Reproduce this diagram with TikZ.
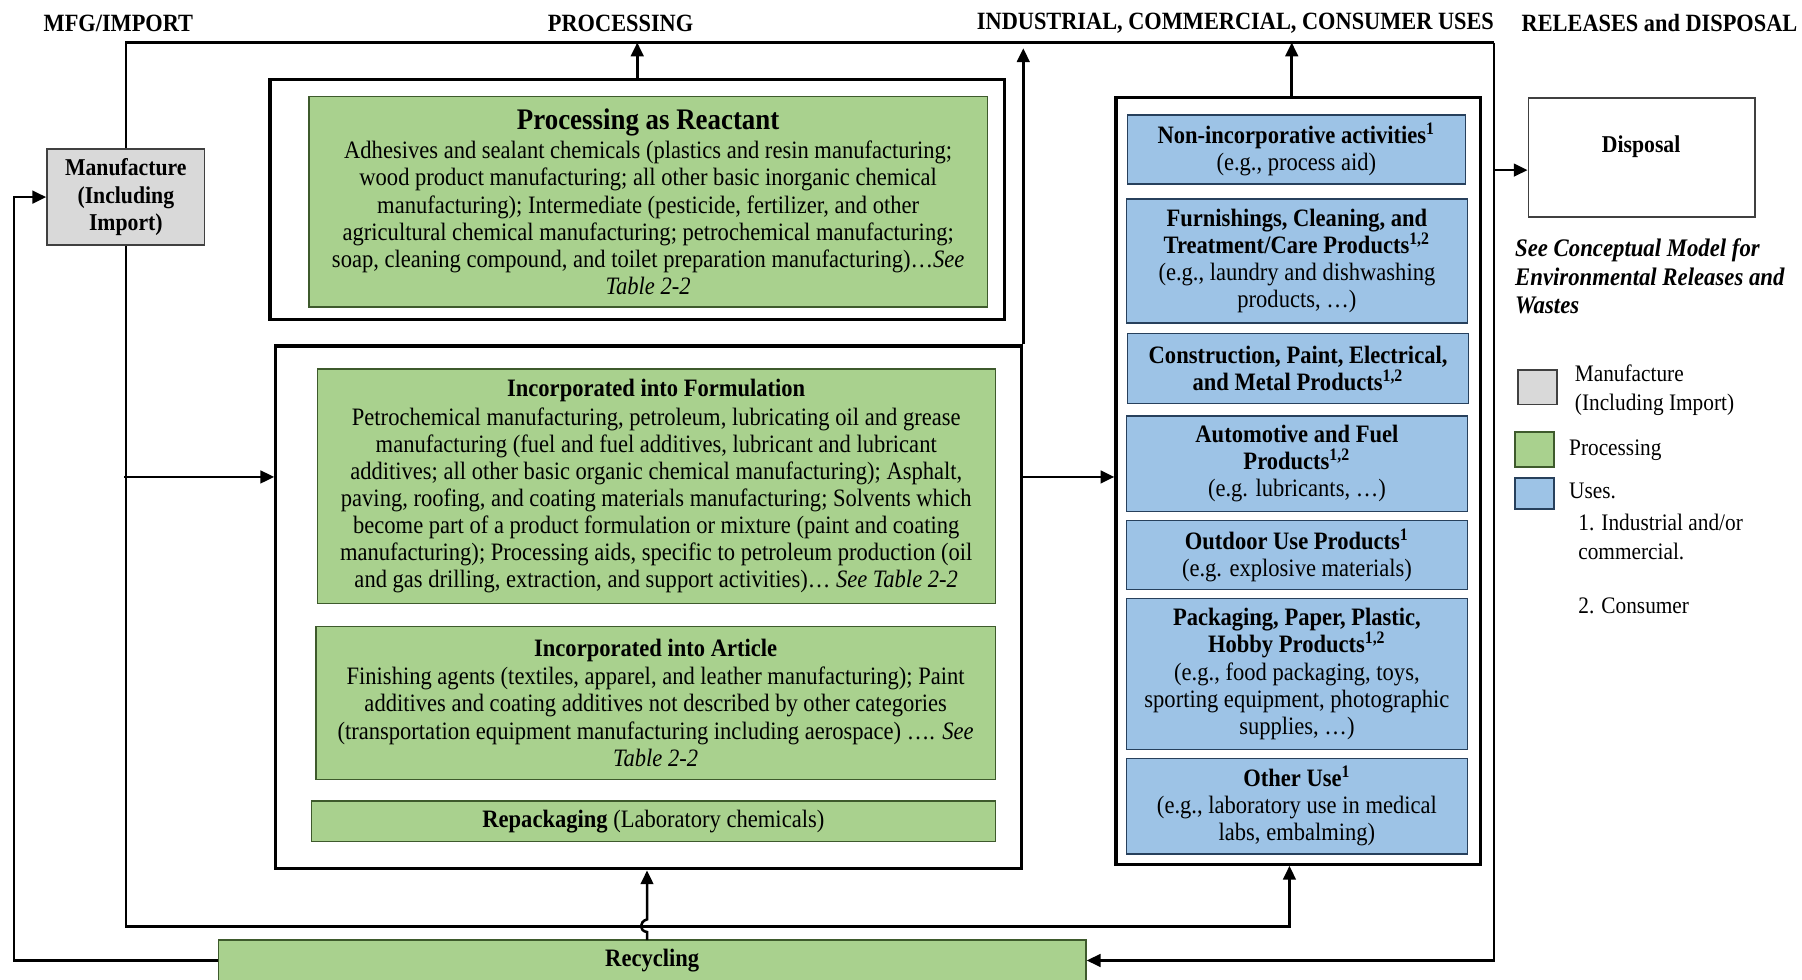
\documentclass[tikz,border=0pt]{standalone}
\usepackage{fontspec}
\setmainfont{Liberation Serif}[FakeStretch=0.9]
\usetikzlibrary{arrows.meta}
\definecolor{grn}{HTML}{A9D18E}
\definecolor{blu}{HTML}{9DC3E6}
\definecolor{gry}{HTML}{D9D9D9}
\definecolor{grnline}{HTML}{3E5A2C}
\definecolor{bluline}{HTML}{27405C}
\newcommand\myBody{\fontsize{10.9}{11.8}\selectfont}
\newcommand\myHdr{\fontsize{10.8}{12}\selectfont\bfseries}
\newcommand{\mybox}[7]{%
  \pgfmathsetmacro\mbw{(#4-#2)*0.5}%
  \pgfmathsetmacro\mbh{(#5-#3)*0.5}%
  \node[#6, minimum width=\mbw pt, minimum height=\mbh pt] (#1) at ({(#2+#4)/2},{(#3+#5)/2}) {#7};}
\tikzset{
  conn/.style={line width=1.1pt},
  arr/.style={-{Triangle[length=6pt,width=5.5pt]}},
  cont/.style={draw, line width=1.4pt, fill=white, inner sep=0pt},
  gbox/.style={draw=grnline, fill=grn, line width=0.6pt, align=center, inner sep=0pt, font=\myBody},
  bbox/.style={draw=bluline, fill=blu, line width=0.6pt, align=center, inner sep=0pt, font=\myBody},
  hdr/.style={font=\myHdr, inner sep=0pt},
  leg/.style={font=\fontsize{10.3}{12.5}\selectfont, align=left, anchor=west, inner sep=0pt},
}
\begin{document}
\begin{tikzpicture}[x=0.5pt,y=-0.5pt]
\useasboundingbox (0,0) rectangle (1568,852);
% headers
\node[hdr] (h1) at (103,20) {MFG/IMPORT};
\node[hdr] (h2) at (540,20) {PROCESSING};
\node[hdr] (h3) at (1075,20) {INDUSTRIAL, COMMERCIAL, CONSUMER USES};
\node[hdr] (h4) at (1444,20) {RELEASES and DISPOSAL};

% main boxes
\mybox{mfg}{41}{130}{178}{213}{draw=black!75, fill=gry, line width=0.8pt, align=center, inner sep=0pt, font=\fontsize{10.5}{12}\selectfont\bfseries}{Manufacture\\(Including\\Import)}
\mybox{proc1}{235}{69}{874}{278}{cont}{}
\mybox{proc2}{240}{301}{889}{756}{cont}{}
\mybox{uses}{971}{85}{1288}{752}{cont}{}
\mybox{disp}{1330}{85}{1527}{189}{draw=black!75, line width=0.8pt}{}
\node[font=\fontsize{10.5}{12}\selectfont\bfseries] (dispT) at (1428,128) {Disposal};
\mybox{rec}{190}{818}{945}{853.5}{gbox}{\textbf{Recycling}}

% helper coordinates
\coordinate (trc) at (1300,37);
\coordinate (j1) at (108,415);
\coordinate (j2) at (889,415);
\coordinate (ub) at (1122,806);
\coordinate (dj) at (1300,148);
\coordinate (lc) at (12,500);
\coordinate (r1) at (563,818);

% connectors
\draw[conn] (mfg.north) |- (trc);
\draw[conn,arr] (trc) |- (rec.east);
\draw[conn,arr] (mfg.south) |- (ub) -- (ub |- uses.south);
\draw[conn,arr] (j1) -- (j1 -| proc2.west);
\draw[conn,arr] (proc1.north) -- (proc1.north |- trc);
\draw[conn,arr] (proc2.north east) -- ([yshift=-2.5pt]proc2.north east |- trc);
\draw[conn,arr] (j2) -- (j2 -| uses.west);
\draw[conn,arr] ([xshift=-2.75pt]uses.north) -- ([xshift=-2.75pt]uses.north |- trc);
\draw[conn,arr] (dj) -- (dj -| disp.west);
\draw[conn,arr] (rec.west) -| (lc) |- (mfg.west);
\draw[conn,arr] (r1) -- (563,811) .. controls (556,810) and (556,802) .. (563,800) -- (r1 |- proc2.south);

% processing boxes
\mybox{reac}{269}{84}{859}{267}{gbox}{{\fontsize{13}{13}\selectfont\bfseries Processing as Reactant}\\[1pt]
Adhesives and sealant chemicals (plastics and resin manufacturing;\\
wood product manufacturing; all other basic inorganic chemical\\
manufacturing); Intermediate (pesticide, fertilizer, and other\\
agricultural chemical manufacturing; petrochemical manufacturing;\\
soap, cleaning compound, and toilet preparation manufacturing)…\textit{See}\\
\textit{Table 2-2}}
\mybox{form}{276}{321}{866}{525}{gbox}{\textbf{Incorporated into Formulation}\\[0.7pt]
Petrochemical manufacturing, petroleum, lubricating oil and grease\\
manufacturing (fuel and fuel additives, lubricant and lubricant\\
additives; all other basic organic chemical manufacturing); Asphalt,\\
paving, roofing, and coating materials manufacturing; Solvents which\\
become part of a product formulation or mixture (paint and coating\\
manufacturing); Processing aids, specific to petroleum production (oil\\
and gas drilling, extraction, and support activities)… \textit{See Table 2-2}}
\mybox{art}{275}{545}{866}{678}{gbox}{\textbf{Incorporated into Article}\\[0.5pt]
Finishing agents (textiles, apparel, and leather manufacturing); Paint\\
additives and coating additives not described by other categories\\
(transportation equipment manufacturing including aerospace) …. \textit{See}\\
\textit{Table 2-2}}
\mybox{repk}{271}{697}{866}{732}{gbox}{\textbf{Repackaging} (Laboratory chemicals)}

% uses boxes
\mybox{u1}{981}{100}{1275}{160}{bbox}{\textbf{Non-incorporative activities\textsuperscript{1}}\\(e.g., process aid)}
\mybox{u2}{980}{173}{1277}{281}{bbox}{\textbf{Furnishings, Cleaning, and}\\\textbf{Treatment/Care Products\textsuperscript{1,2}}\\(e.g., laundry and dishwashing\\products, …)}
\mybox{u3}{981}{290}{1278}{351}{bbox}{\textbf{Construction, Paint, Electrical,}\\\textbf{and Metal Products\textsuperscript{1,2}}}
\mybox{u4}{980}{362}{1277}{445}{bbox}{\textbf{Automotive and Fuel}\\\textbf{Products\textsuperscript{1,2}}\\(e.g. lubricants, …)}
\mybox{u5}{980}{453}{1277}{513}{bbox}{\textbf{Outdoor Use Products\textsuperscript{1}}\\(e.g. explosive materials)}
\mybox{u6}{980}{521}{1277}{652}{bbox}{\textbf{Packaging, Paper, Plastic,}\\\textbf{Hobby Products\textsuperscript{1,2}}\\(e.g., food packaging, toys,\\sporting equipment, photographic\\supplies, …)}
\mybox{u7}{980}{660}{1277}{743}{bbox}{\textbf{Other Use\textsuperscript{1}}\\(e.g., laboratory use in medical\\labs, embalming)}

% note
\node[font=\fontsize{11}{12.25}\selectfont\bfseries\itshape, align=left, anchor=west, inner sep=0pt] (note) at (1318,240.5) {See Conceptual Model for\\Environmental Releases and\\Wastes};

% legend
\mybox{lg1}{1321}{322}{1355}{352}{draw=black!75, fill=gry, line width=0.8pt}{}
\mybox{lg2}{1318}{376}{1352}{406}{draw=grnline, fill=grn, line width=0.8pt}{}
\mybox{lg3}{1318}{416}{1352}{443}{draw=bluline, fill=blu, line width=0.8pt}{}
\node[leg] (lt1) at (1370,339.5) {Manufacture\\(Including Import)};
\node[leg] (lt2) at (1365,392) {Processing};
\node[leg] (lt3) at (1365,427) {Uses.};
\node[leg] (lt4) at (1373,467) {1. Industrial and/or\\commercial.};
\node[leg] (lt5) at (1373,527) {2. Consumer};
\end{tikzpicture}
\end{document}
